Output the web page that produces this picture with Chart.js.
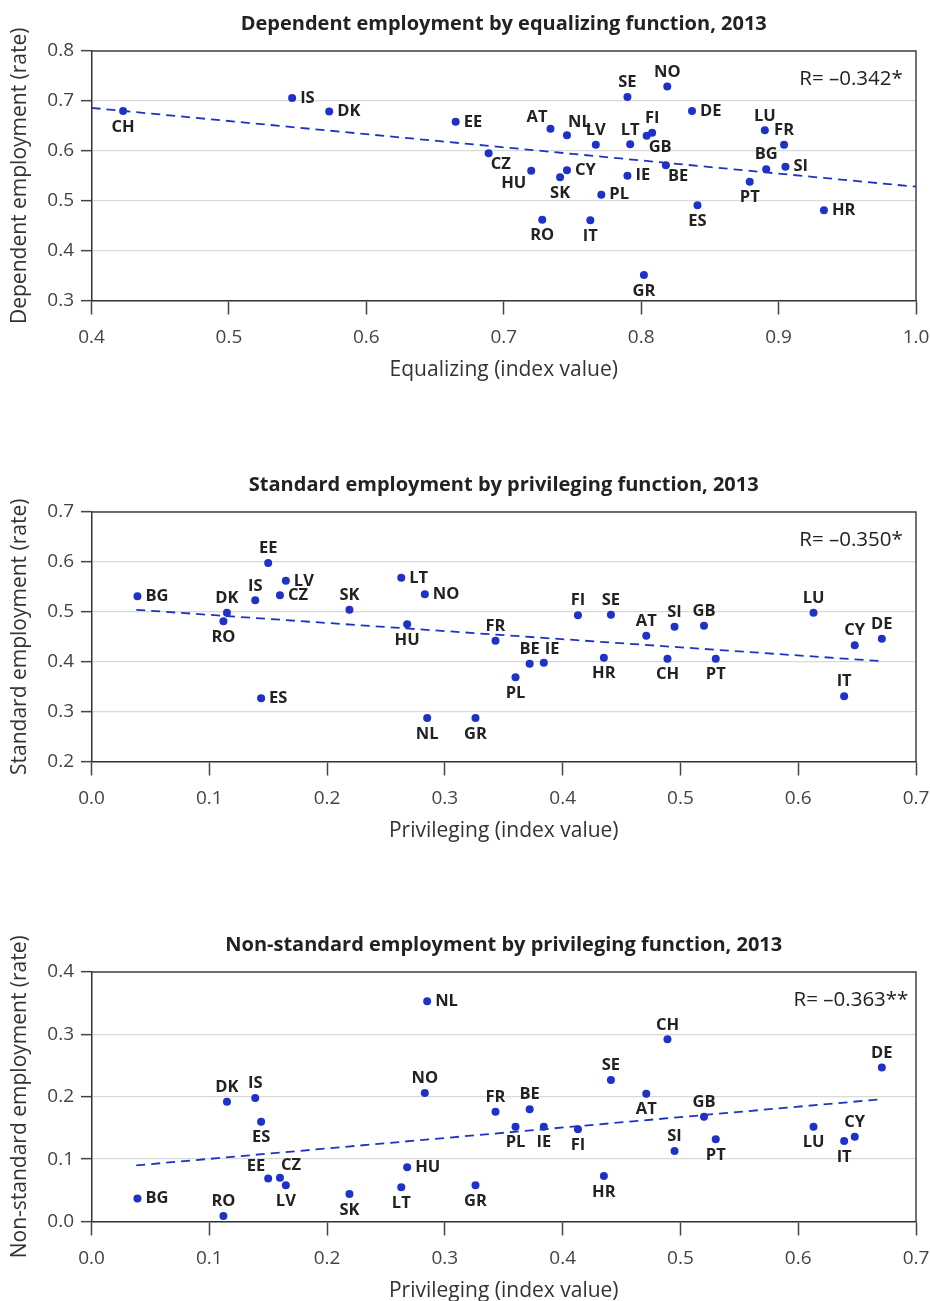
<!DOCTYPE html>
<html>
<head>
<meta charset="utf-8">
<script src="https://cdn.jsdelivr.net/npm/chart.js@4.4.0/dist/chart.umd.min.js"></script>
<style>
  html, body { margin: 0; padding: 0; background: #fff; overflow: hidden; }
  #wrap { position: relative; width: 930px; height: 1301px; }
  canvas { position: absolute; left: 0; }
</style>
</head>
<body>
<div id="wrap">
  <canvas id="c1" width="930" height="460" style="top:0px"></canvas>
  <canvas id="c2" width="930" height="460" style="top:461px"></canvas>
  <canvas id="c3" width="930" height="460" style="top:921px"></canvas>
</div>
<script>
// ---------- DATA ----------
const countries   = ['AT','BE','BG','CH','CY','CZ','DE','DK','EE','ES','FI','FR','GB','GR','HR','HU','IE','IS','IT','LT','LU','LV','NL','NO','PL','PT','RO','SE','SI','SK'];
const equalizing  = [0.734,0.818,0.891,0.423,0.746,0.689,0.837,0.573,0.665,0.841,0.808,0.904,0.804,0.802,0.933,0.720,0.790,0.546,0.763,0.792,0.890,0.767,0.746,0.819,0.771,0.879,0.728,0.790,0.905,0.741];
const dependent   = [0.644,0.571,0.563,0.680,0.561,0.595,0.680,0.679,0.658,0.491,0.636,0.612,0.630,0.351,0.481,0.560,0.550,0.706,0.461,0.613,0.641,0.612,0.631,0.729,0.512,0.538,0.462,0.708,0.568,0.547];
const privileging = [0.471,0.372,0.039,0.489,0.648,0.160,0.671,0.115,0.150,0.144,0.413,0.343,0.520,0.326,0.435,0.268,0.384,0.139,0.639,0.263,0.613,0.165,0.285,0.283,0.360,0.530,0.112,0.441,0.495,0.219];
const standard    = [0.452,0.396,0.531,0.406,0.433,0.533,0.446,0.498,0.598,0.327,0.493,0.442,0.472,0.287,0.408,0.475,0.398,0.523,0.331,0.568,0.498,0.562,0.287,0.535,0.369,0.406,0.481,0.494,0.470,0.504];
const nonStandard = [0.205,0.180,0.037,0.292,0.136,0.070,0.247,0.192,0.069,0.160,0.148,0.176,0.168,0.058,0.073,0.087,0.152,0.198,0.129,0.055,0.152,0.058,0.353,0.206,0.152,0.132,0.009,0.227,0.113,0.044];

// trend line end points
const trend1X = [0.4, 1.0],     trend1Y = [0.686, 0.528];
const trend2X = [0.038, 0.671], trend2Y = [0.504, 0.401];
const trend3X = [0.038, 0.671], trend3Y = [0.090, 0.196];

const rText = ['R= \u20130.342*', 'R= \u20130.350*', 'R= \u20130.363**'];

// tick values
const xTicks1 = [0.4,0.5,0.6,0.7,0.8,0.9,1.0];
const yTicks1 = [0.3,0.4,0.5,0.6,0.7,0.8];
const xTicks2 = [0.0,0.1,0.2,0.3,0.4,0.5,0.6,0.7];
const yTicks2 = [0.2,0.3,0.4,0.5,0.6,0.7];
const yTicks3 = [0.0,0.1,0.2,0.3,0.4];

// label placement codes per chart (same order as countries)
const lab1 = ['tl','br','t','b','r','br','r','r','r','b','t','t','br','b','r','bl','r','r','b','t','t','t','tr','t','r','b','b','t','r','b'];
const lab2 = ['t','t','r','b','t','r','t','t','t','r','t','t','t','b','b','b','tr','t','t','r','t','r','b','r','b','b','b','t','t','t'];
const lab3 = ['b','t','r','t','t','tr','t','t','tl','b','b','t','t','b','b','r','b','t','b','b','b','b','r','t','b','b','t','t','t','b'];

// ---------- STYLE ----------
const FONT = '"Open Sans", "Noto Sans", sans-serif';
const BLUE = '#1f32c8';

const framePlugin = {
  id: 'frame',
  afterDraw(chart) {
    const {ctx, chartArea: a} = chart;
    ctx.save();
    ctx.strokeStyle = '#444';
    ctx.lineWidth = 1.5;
    ctx.beginPath();
    ctx.moveTo(a.left, a.top);
    ctx.lineTo(a.right, a.top);
    ctx.lineTo(a.right, a.bottom);
    ctx.stroke();
    ctx.restore();
  }
};

const titlePlugin = {
  id: 'plotTitle',
  afterDraw(chart, args, opts) {
    const {ctx, chartArea: a} = chart;
    ctx.save();
    ctx.font = 'bold 20px ' + FONT;
    ctx.fillStyle = '#222';
    ctx.textAlign = 'center';
    ctx.textBaseline = 'middle';
    ctx.fillText(opts.text, (a.left + a.right) / 2, 24);
    ctx.restore();
  }
};

const labelPlugin = {
  id: 'ptlabels',
  afterDatasetsDraw(chart, args, opts) {
    const {ctx} = chart;
    const meta = chart.getDatasetMeta(1);
    ctx.save();
    ctx.font = 'bold 16.5px ' + FONT;
    ctx.fillStyle = '#222';
    ctx.textBaseline = 'middle';
    meta.data.forEach((el, i) => {
      const code = opts.pos[i];
      let x = el.x, y = el.y, align = 'center';
      switch (code) {
        case 'r':  x += 8;  align = 'left'; break;
        case 'l':  x -= 8;  align = 'right'; break;
        case 't':  y -= 14.5; break;
        case 'b':  y += 16; break;
        case 'tr': x += 1; y -= 13; align = 'left'; break;
        case 'tl': x -= 3; y -= 12; align = 'right'; break;
        case 'br': x += 2; y += 11; align = 'left'; break;
        case 'bl': x -= 5; y += 13; align = 'right'; break;
      }
      ctx.textAlign = align;
      ctx.fillText(opts.names[i], x, y);
    });
    ctx.restore();
  }
};

const rPlugin = {
  id: 'rlabel',
  afterDraw(chart, args, opts) {
    const {ctx, chartArea: a} = chart;
    ctx.save();
    ctx.font = '20.5px ' + FONT;
    ctx.fillStyle = '#222';
    ctx.textAlign = 'center';
    ctx.textBaseline = 'alphabetic';
    ctx.fillText(opts.text, a.right - 65, a.top + 34);
    ctx.restore();
  }
};

function fmt(v) { return (Math.round(v * 10) / 10).toFixed(1); }

function makeChart(id, o) {
  const pts = o.xs.map((x, i) => ({x: x, y: o.ys[i]}));
  const tr = o.tx.map((x, i) => ({x: x, y: o.ty[i]}));
  return new Chart(document.getElementById(id), {
    type: 'scatter',
    data: {
      datasets: [
        { data: tr, showLine: true, borderColor: BLUE, borderWidth: 1.8, borderDash: [9, 6],
          pointRadius: 0, fill: false },
        { data: pts, pointRadius: 4, pointHoverRadius: 4, backgroundColor: BLUE, borderWidth: 0 }
      ]
    },
    options: {
      responsive: false,
      animation: false,
      events: [],
      layout: { padding: { left: 0, right: 14, top: 51, bottom: 0 } },
      plugins: {
        legend: { display: false },
        tooltip: { enabled: false },
        title: { display: false },
        plotTitle: { text: o.title },
        ptlabels: { names: countries, pos: o.pos },
        rlabel: { text: o.r }
      },
      scales: {
        x: {
          type: 'linear', min: o.xTicks[0], max: o.xTicks[o.xTicks.length - 1],
          afterBuildTicks: s => { s.ticks = o.xTicks.map(v => ({value: v})); },
          afterFit: s => { s.height = 159.5; s.paddingRight = 0; s.paddingLeft = 0; },
          ticks: { callback: fmt, color: '#444', font: { family: FONT, size: 19 }, padding: 11.6, maxRotation: 0 },
          grid: { drawOnChartArea: false, drawTicks: true, tickLength: 14, tickColor: '#444', tickWidth: 1.5 },
          border: { display: true, color: '#333', width: 1.5 },
          title: { display: true, text: o.xTitle, color: '#333', font: { family: FONT, size: 21 },
                   padding: { top: 0, bottom: 77.4 } }
        },
        y: {
          type: 'linear', min: o.yTicks[0], max: o.yTicks[o.yTicks.length - 1],
          afterBuildTicks: s => { s.ticks = o.yTicks.map(v => ({value: v})); },
          afterFit: s => { s.width = 91.5; s.paddingTop = 0; s.paddingBottom = 0; },
          ticks: { callback: fmt, color: '#444', font: { family: FONT, size: 19 }, padding: 7 },
          grid: { color: '#d9d9d9', lineWidth: 1.3, drawTicks: true, tickLength: 10.5, tickColor: '#444', tickWidth: 1.5 },
          border: { display: true, color: '#333', width: 1.5 },
          title: { display: true, text: o.yTitle, color: '#333', font: { family: FONT, size: 21 },
                   padding: { top: 7.4, bottom: 0 } }
        }
      }
    },
    plugins: [framePlugin, titlePlugin, labelPlugin, rPlugin]
  });
}

makeChart('c1', {
  title: 'Dependent employment by equalizing function, 2013',
  xTitle: 'Equalizing (index value)', yTitle: 'Dependent employment (rate)',
  xs: equalizing, ys: dependent, tx: trend1X, ty: trend1Y,
  xTicks: xTicks1, yTicks: yTicks1, pos: lab1, r: rText[0]
});
makeChart('c2', {
  title: 'Standard employment by privileging function, 2013',
  xTitle: 'Privileging (index value)', yTitle: 'Standard employment (rate)',
  xs: privileging, ys: standard, tx: trend2X, ty: trend2Y,
  xTicks: xTicks2, yTicks: yTicks2, pos: lab2, r: rText[1]
});
makeChart('c3', {
  title: 'Non-standard employment by privileging function, 2013',
  xTitle: 'Privileging (index value)', yTitle: 'Non-standard employment (rate)',
  xs: privileging, ys: nonStandard, tx: trend3X, ty: trend3Y,
  xTicks: xTicks2, yTicks: yTicks3, pos: lab3, r: rText[2]
});
</script>
</body>
</html>
